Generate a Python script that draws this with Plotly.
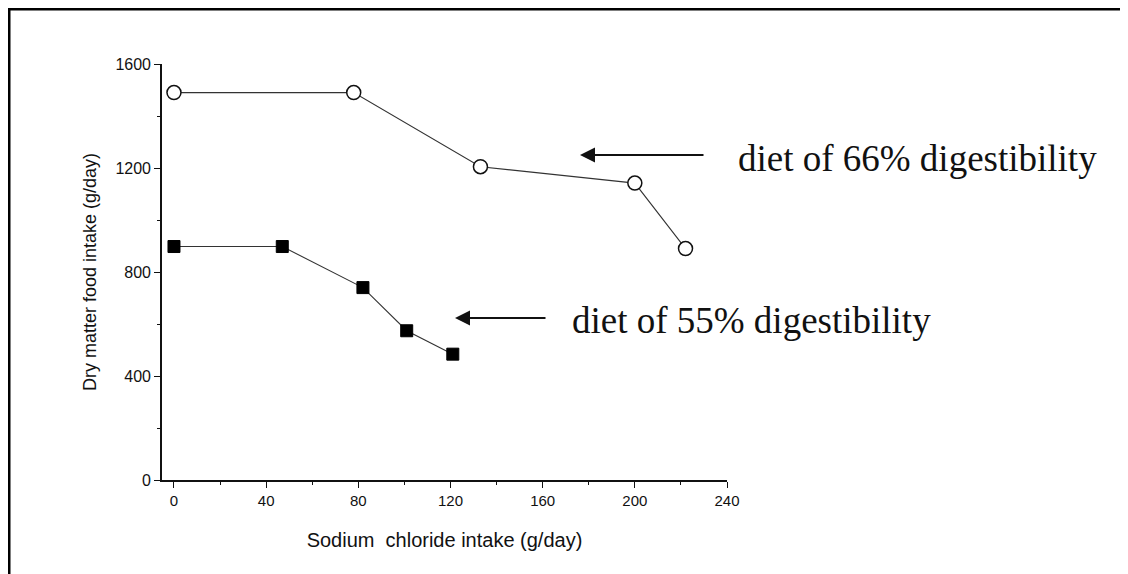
import plotly.graph_objects as go

# ── Data ──────────────────────────────────────────────────────────────────────
NACL_66 = [0, 78, 133, 200, 222]
DM_66 = [1490, 1490, 1205, 1142, 890]

NACL_55 = [0, 47, 82, 101, 121]
DM_55 = [898, 898, 740, 574, 484]

X_TICKS = [0, 40, 80, 120, 160, 200, 240]
Y_TICKS = [0, 400, 800, 1200, 1600]

LABEL_66 = "diet of 66% digestibility"
LABEL_55 = "diet of 55% digestibility"

# ── Layout geometry (figure pixels; page adds an 8px body margin) ─────────────
W, H = 1120, 566
L, R, T, B = 154, 719, 56, 472


def px_x(p):
    return (p - L) / (R - L)


def px_y(p):
    return (B - p) / (B - T)


SANS = "Liberation Sans, Arial, sans-serif"
SERIF = "Liberation Serif, Times New Roman, serif"

fig = go.Figure()

fig.add_trace(go.Scatter(
    x=NACL_66, y=DM_66, mode="lines+markers", name="66%",
    line=dict(color="#333333", width=1.1),
    marker=dict(symbol="circle", size=14, color="white",
                line=dict(color="#111111", width=1.5)),
))
fig.add_trace(go.Scatter(
    x=NACL_55, y=DM_55, mode="lines+markers", name="55%",
    line=dict(color="#333333", width=1.1),
    marker=dict(symbol="square", size=12, color="black",
                line=dict(color="black", width=1)),
))

# arrows pointing at each curve (tip, tail, row in pixels)
for tip, tail, yy in [(572, 697, 147), (447, 539, 310)]:
    fig.add_annotation(
        x=px_x(tip), y=px_y(yy), ax=tail - tip, ay=0,
        xref="paper", yref="paper", axref="pixel", ayref="pixel",
        text="", showarrow=True, arrowhead=2, arrowsize=1.5,
        arrowwidth=2, arrowcolor="#111111",
    )

for txt, xl, yy in [(LABEL_66, 728, 150), (LABEL_55, 562, 312)]:
    fig.add_annotation(
        x=px_x(xl), y=px_y(yy), xref="paper", yref="paper",
        xanchor="left", yanchor="middle", text=txt, showarrow=False,
        font=dict(family=SERIF, size=37, color="#111111"),
    )

# outer frame (top and left edges)
fig.add_shape(type="line", xref="paper", yref="paper",
              x0=px_x(1), x1=px_x(W), y0=px_y(1), y1=px_y(1),
              line=dict(color="black", width=3))
fig.add_shape(type="line", xref="paper", yref="paper",
              x0=px_x(1), x1=px_x(1), y0=px_y(0), y1=px_y(H),
              line=dict(color="black", width=3))

fig.update_layout(
    width=W, height=H,
    paper_bgcolor="white", plot_bgcolor="white",
    margin=dict(l=L, r=W - R, t=T, b=H - B, autoexpand=False),
    showlegend=False,
    font=dict(family=SANS, color="#111111", size=14),
)
fig.update_xaxes(
    range=[-5.2, 240], tickvals=X_TICKS, ticks="outside", ticklen=6,
    tickwidth=1.3, tickcolor="#111111",
    showline=True, linecolor="#111111", linewidth=1.6,
    showgrid=False, zeroline=False,
    minor=dict(dtick=20, tick0=0, ticks="outside", ticklen=3,
               tickcolor="#111111", showgrid=False),
    tickfont=dict(size=15),
    title=dict(text="Sodium  chloride intake (g/day)",
               font=dict(size=20), standoff=25),
)
fig.update_yaxes(
    range=[0, 1600], tickvals=Y_TICKS, ticks="outside", ticklen=6,
    tickwidth=1.3, tickcolor="#111111",
    showline=True, linecolor="#111111", linewidth=1.6,
    showgrid=False, zeroline=False,
    minor=dict(dtick=200, tick0=0, ticks="outside", ticklen=3,
               tickcolor="#111111", showgrid=False),
    tickfont=dict(size=16),
    title=dict(text="Dry matter food intake (g/day)",
               font=dict(size=18), standoff=14),
)

fig.write_html("out.html")
